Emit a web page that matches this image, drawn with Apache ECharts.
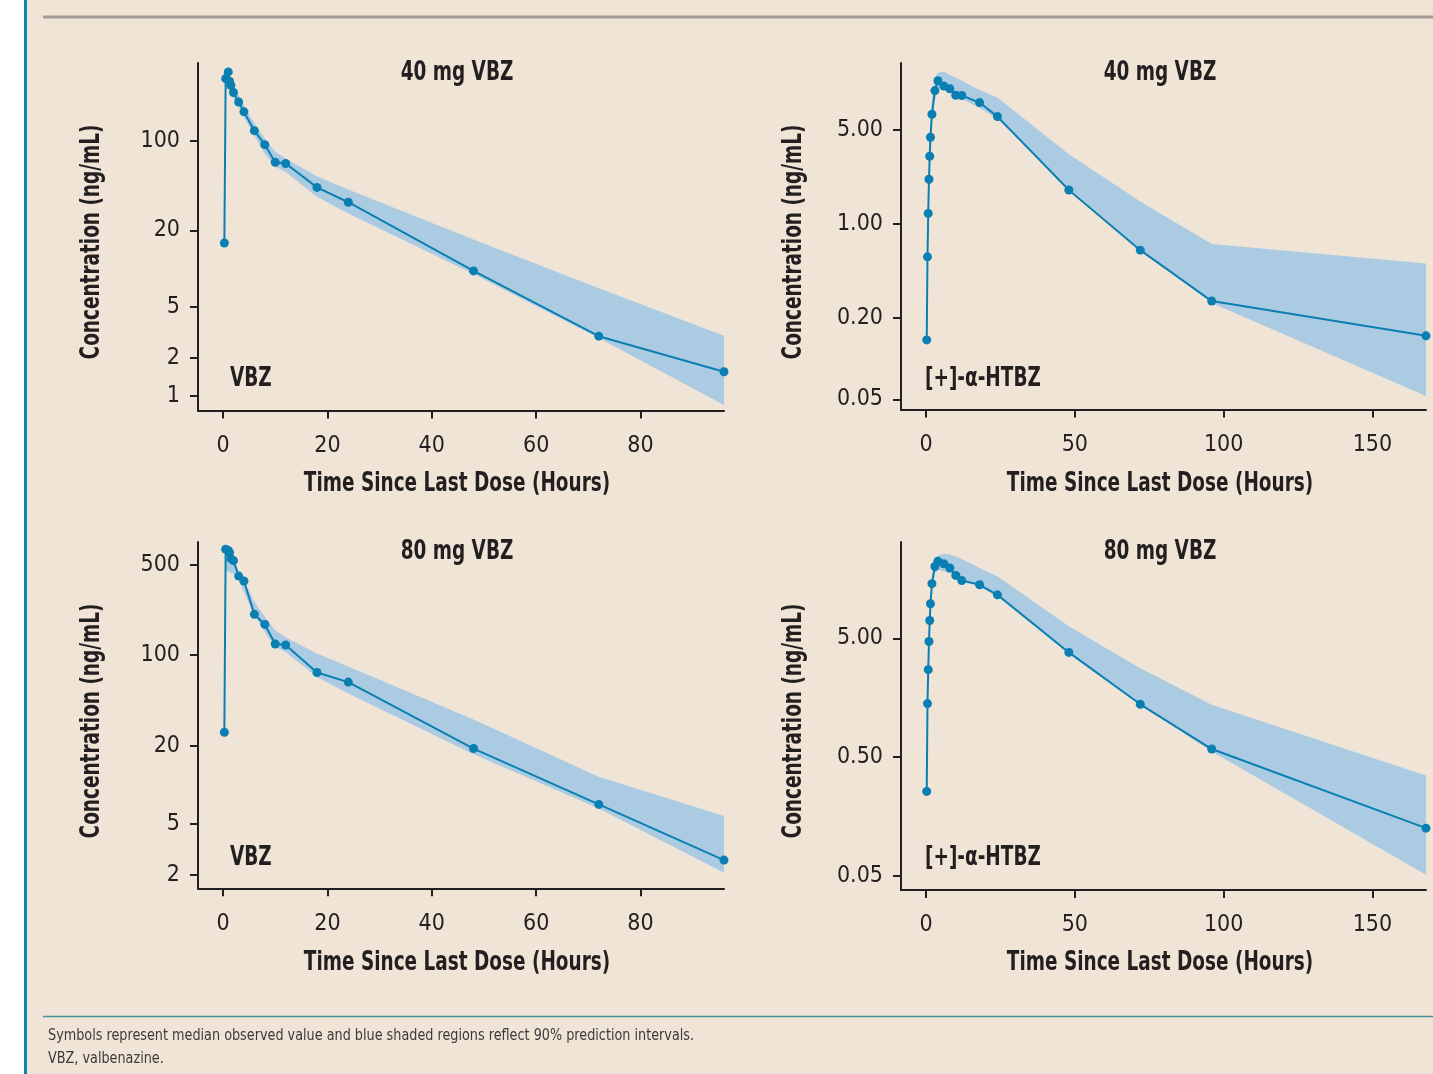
<!DOCTYPE html>
<html>
<head>
<meta charset="utf-8">
<script src="https://cdn.jsdelivr.net/npm/echarts@6/dist/echarts.min.js"></script>
<style>
html,body{margin:0;padding:0;background:#ffffff;}
#chart{width:1433px;height:1074px;}
</style>
</head>
<body>
<div id="chart"></div>
<script>
// ---- Data ----
const vbzTimes = [0.25, 0.5, 1, 1.25, 1.5, 2, 3, 4, 6, 8, 10, 12, 18, 24, 48, 72, 96];
const htbzTimes = [0.25, 0.5, 0.75, 1, 1.25, 1.5, 2, 3, 4, 6, 8, 10, 12, 18, 24, 48, 72, 96, 168];

const vbz40Median = [15.9, 310, 350, 296, 275, 241, 203, 170, 121, 94, 68.4, 66.8, 43.4, 33.2, 9.6, 2.95, 1.55];
const htbz40Median = [0.138, 0.571, 1.2, 2.15, 3.19, 4.41, 6.54, 9.8, 11.6, 10.6, 10.1, 9.05, 9.0, 7.98, 6.28, 1.79, 0.64, 0.268, 0.148];
const vbz80Median = [25.4, 659, 646, 621, 558, 538, 409, 375, 207, 173, 122, 120, 73.5, 62, 19, 7.03, 2.61];
const htbz80Median = [0.257, 1.41, 2.72, 4.7, 7.06, 9.76, 14.4, 20.1, 22.2, 21.2, 19.5, 16.9, 15.3, 14.1, 11.6, 3.8, 1.39, 0.584, 0.126];

// 90% prediction interval bounds
const vbzBandTimes = [0.25, 0.5, 1, 2, 3, 4, 6, 8, 10, 12, 18, 24, 48, 72, 96];
const vbz40Lo = [12, 250, 259, 216, 185, 155, 111, 80, 62.9, 57.4, 36.6, 27.1, 9.06, 2.85, 0.85];
const vbz40Hi = [22, 345, 335, 275, 230, 191, 138, 105, 82.5, 73.2, 53.2, 41.8, 16.9, 7.0, 2.97];
const vbz80Lo = [20, 450, 440, 428, 380, 308, 204, 151, 116, 106, 68, 50.6, 17.2, 6.55, 2.08];
const vbz80Hi = [32, 690, 650, 545, 440, 385, 258, 198, 156, 138, 103, 82, 31.8, 11.5, 5.71];

const htbzBandTimes = [0.25, 0.5, 0.75, 1, 1.25, 1.5, 2, 3, 4, 6, 8, 10, 12, 18, 24, 48, 72, 96, 168];
const htbz40Lo = [0.12, 0.5, 1.0, 2.0, 2.8, 3.8, 5.6, 8.3, 10, 10.4, 9.8, 9.2, 8.5, 7.3, 6.0, 1.85, 0.65, 0.259, 0.053];
const htbz40Hi = [0.16, 0.7, 1.5, 3.2, 4.3, 5.8, 8.5, 12.2, 13.3, 13.5, 12.8, 12.2, 11.6, 9.9, 8.7, 3.3, 1.47, 0.71, 0.51];
const htbz80Lo = [0.2, 1.2, 2.4, 4.2, 6.2, 8.5, 12.5, 17.7, 18.9, 18.2, 17.7, 16.9, 15.7, 13.6, 11.2, 3.7, 1.38, 0.557, 0.051];
const htbz80Hi = [0.3, 1.6, 3.2, 5.4, 8, 11, 17, 23.7, 24.7, 25.7, 25.4, 24.4, 23.2, 19.5, 16.6, 6.3, 2.8, 1.38, 0.35];

// tick labels
const vbzXTicks = [0, 20, 40, 60, 80];
const htbzXTicks = [0, 50, 100, 150];
const vbz40YTicks = [1, 2, 5, 20, 100];
const htbz40YTicks = [0.05, 0.2, 1, 5];
const vbz80YTicks = [2, 5, 20, 100, 500];
const htbz80YTicks = [0.05, 0.5, 5];

const panelTitles = ['40 mg VBZ', '40 mg VBZ', '80 mg VBZ', '80 mg VBZ'];
const analyteLabels = ['VBZ', '[+]-α-HTBZ', 'VBZ', '[+]-α-HTBZ'];
const yTitle = 'Concentration (ng/mL)';
const xTitle = 'Time Since Last Dose (Hours)';
const footnotes = ['Symbols represent median observed value and blue shaded regions reflect 90% prediction intervals.', 'VBZ, valbenazine.'];

// ---- Styling ----
const FONT = "'DejaVu Sans Condensed', 'Liberation Sans Narrow', 'Liberation Sans', sans-serif";
const INK = '#231F20';
const LINE = '#0A7FB2';
const BAND = '#ABCBE2';
const BG = '#F0E4D6';
const SQUEEZE = 0.76;

const panels = [
  {grid: {left: 198, top: 63, width: 526, height: 347.5}, x: [-4.8, 96], y: [0.77, 411], xt: vbzXTicks, yt: vbz40YTicks, dec: 0,
   t: vbzTimes, m: vbz40Median, bt: vbzBandTimes, lo: vbz40Lo, hi: vbz40Hi},
  {grid: {left: 901, top: 63, width: 525, height: 346.5}, x: [-8.4, 168], y: [0.042, 15.7], xt: htbzXTicks, yt: htbz40YTicks, dec: 2,
   t: htbzTimes, m: htbz40Median, bt: htbzBandTimes, lo: htbz40Lo, hi: htbz40Hi},
  {grid: {left: 198, top: 542, width: 526, height: 346.3}, x: [-4.8, 96], y: [1.58, 750], xt: vbzXTicks, yt: vbz80YTicks, dec: 0,
   t: vbzTimes, m: vbz80Median, bt: vbzBandTimes, lo: vbz80Lo, hi: vbz80Hi},
  {grid: {left: 901, top: 542, width: 525, height: 348}, x: [-8.4, 168], y: [0.038, 32.3], xt: htbzXTicks, yt: htbz80YTicks, dec: 2,
   t: htbzTimes, m: htbz80Median, bt: htbzBandTimes, lo: htbz80Lo, hi: htbz80Hi}
];

const grids = [], xAxes = [], yAxes = [], series = [], graphics = [];

function squeezedText(txt, x, y, font, align, opts) {
  return Object.assign({type: 'text', x: x, y: y, scaleX: SQUEEZE, z: 10,
    style: {text: txt, fill: INK, font: font, textAlign: align, textVerticalAlign: 'middle'}}, opts || {});
}

panels.forEach((p, i) => {
  grids.push(Object.assign({containLabel: false}, p.grid));
  const axisLine = {show: true, onZero: false, lineStyle: {color: INK, width: 2}};
  xAxes.push({
    type: 'value', gridIndex: i, min: p.x[0], max: p.x[1],
    axisLine: axisLine,
    axisTick: {show: true, length: 8, lineStyle: {color: INK, width: 2}, customValues: p.xt},
    axisLabel: {customValues: p.xt, color: INK, fontFamily: FONT, fontSize: 23, margin: 24},
    splitLine: {show: false}
  });
  yAxes.push({
    type: 'log', logBase: 10, gridIndex: i, min: p.y[0], max: p.y[1],
    axisLine: axisLine,
    axisTick: {show: true, length: 8, lineStyle: {color: INK, width: 2}, customValues: p.yt},
    axisLabel: {customValues: p.yt, color: INK, fontFamily: FONT, fontSize: 23, margin: 18,
      formatter: (v) => Number(v).toFixed(p.dec)},
    splitLine: {show: false}
  });
  // prediction interval band
  series.push({
    type: 'custom', xAxisIndex: i, yAxisIndex: i, z: 1, silent: true,
    data: [[p.bt[0], p.hi[0]]],
    renderItem: (params, api) => {
      const pts = [];
      for (let k = 0; k < p.bt.length; k++) pts.push(api.coord([p.bt[k], p.hi[k]]));
      for (let k = p.bt.length - 1; k >= 0; k--) pts.push(api.coord([p.bt[k], p.lo[k]]));
      return {type: 'polygon', shape: {points: pts}, style: {fill: BAND, stroke: null}};
    }
  });
  // median observed
  series.push({
    type: 'line', xAxisIndex: i, yAxisIndex: i, z: 3,
    data: p.t.map((tt, k) => [tt, p.m[k]]),
    symbol: 'circle', symbolSize: 9, showSymbol: true,
    lineStyle: {color: LINE, width: 2},
    itemStyle: {color: LINE},
    animation: false
  });
  const left = i % 2 === 0;
  const top = i < 2;
  const cx = left ? 457 : 1160;
  // panel title
  graphics.push(squeezedText(panelTitles[i], cx, top ? 73 : 552, "bold 27px " + FONT, 'center'));
  // analyte label
  graphics.push(squeezedText(analyteLabels[i], left ? 230 : 925, top ? 379 : 858, "bold 27px " + FONT, 'left'));
  // axis titles
  graphics.push(squeezedText(xTitle, cx, top ? 484 : 963, "bold 27px " + FONT, 'center'));
  graphics.push(squeezedText(yTitle, left ? 92 : 794, top ? 242 : 721, "bold 27px " + FONT, 'center', {rotation: Math.PI / 2}));
});

// frame decorations
graphics.push({type: 'rect', shape: {x: 0, y: 0, width: 24, height: 1074}, style: {fill: '#ffffff'}, z: 0});
graphics.push({type: 'rect', shape: {x: 24, y: 0, width: 3, height: 1074}, style: {fill: '#0C84AE'}, z: 0});
graphics.push({type: 'line', shape: {x1: 43, y1: 17, x2: 1433, y2: 17}, style: {stroke: '#A39C95', lineWidth: 3}, z: 0});
graphics.push({type: 'line', shape: {x1: 43, y1: 1016.5, x2: 1433, y2: 1016.5}, style: {stroke: '#3F929C', lineWidth: 1.5}, z: 0});
graphics.push({type: 'text', x: 48, y: 1036, scaleX: 0.89, style: {text: footnotes[0], fill: '#3a3a3a', font: "16px " + FONT, textVerticalAlign: 'middle'}});
graphics.push({type: 'text', x: 48, y: 1059, scaleX: 0.89, style: {text: footnotes[1], fill: '#3a3a3a', font: "16px " + FONT, textVerticalAlign: 'middle'}});

const chart = echarts.init(document.getElementById('chart'), null, {renderer: 'canvas'});
chart.setOption({
  backgroundColor: BG,
  animation: false,
  grid: grids,
  xAxis: xAxes,
  yAxis: yAxes,
  series: series,
  graphic: graphics
});
</script>
</body>
</html>
